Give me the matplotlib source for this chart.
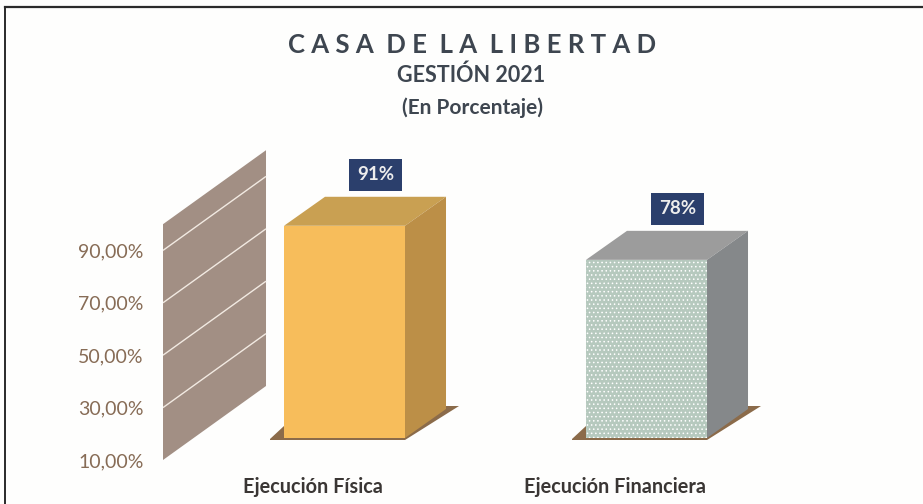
import matplotlib
matplotlib.use('Agg')
import matplotlib.pyplot as plt
from matplotlib.patches import Polygon
from matplotlib.lines import Line2D

categories = ['Ejecución Física', 'Ejecución Financiera']
valores = [91, 78]
etiquetas = ['91%', '78%']
ticks = [10, 30, 50, 70, 90]
tick_labels = ['10,00%', '30,00%', '50,00%', '70,00%', '90,00%']
colores = ['#F7BD5B', '#B6C9BE']
lados = ['#BC8F47', '#85888A']
techos = ['#C9A052', '#9C9C9C']
W, H = 923, 504

plt.rcParams['font.family'] = ['Lato', 'DejaVu Sans']
plt.rcParams['hatch.linewidth'] = 0.6
fig = plt.figure(figsize=(W/100, H/100), dpi=100, facecolor='#FEFEFD')

# ejes puestos a mano, en pixeles de la imagen
ax = fig.add_axes([163/W, 1-460/H, (780-163)/W, 314.4/H])
ax.set_xlim(-0.601, 1.442)
ax.set_ylim(10, 130)
ax.patch.set_alpha(0)
for s in ax.spines.values():
    s.set_visible(False)
px_x = 1/302
px_y = 1/2.62
base = 10 + 22*px_y
dx, dy = 41*px_x, 29*px_y
ancho = 121*px_x

# pared del fondo
wx = -0.601
wdx, wdy = 103*px_x, 74*px_y
ax.add_patch(Polygon([(wx, 10), (wx, 100), (wx+wdx, 100+wdy), (wx+wdx, 10+wdy)], fc='#A28F84', ec='none'))
for t in ticks[1:]:
    ax.plot([wx, wx+wdx], [t, t+wdy], color='#F2EAE2', lw=1.0, solid_capstyle='butt')

ax.set_yticks(ticks)
ax.set_yticklabels(tick_labels, fontsize=14, color='#876C56')
ax.tick_params(axis='y', length=0, pad=14)
ax.set_xticks([])

for i, v in enumerate(valores):
    izq = i - ancho/2
    der = i + ancho/2
    # sombra en el piso
    ax.add_patch(Polygon([(izq-14*px_x, base-1*px_y), (izq, base+12*px_y), (der+dx, base+dy+3*px_y),
                          (der+dx+13*px_x, base+dy+3*px_y), (der, base-2*px_y), (izq-14*px_x, base-2*px_y)],
                         fc='#8B6B4A', ec='none', zorder=2))
    top = base + v - 10
    ax.add_patch(Polygon([(izq, top), (izq+dx, top+dy), (der+dx, top+dy), (der, top)], fc=techos[i], ec='none', zorder=3))
    ax.add_patch(Polygon([(der, base), (der, top), (der+dx, top+dy), (der+dx, base+dy)], fc=lados[i], ec='none', zorder=3))
    ax.bar(i, v-10, width=ancho, bottom=base, color=colores[i], zorder=4,
           hatch='....' if i == 1 else None, edgecolor='#FFFFFF' if i == 1 else colores[i], lw=0)
    ax.annotate(etiquetas[i], (i, top), xytext=(31*0.72, 51*0.72), textcoords='offset points',
                ha='center', va='center', fontsize=13.5, fontweight='bold', color='#EDEDED', zorder=5,
                bbox=dict(boxstyle='square,pad=0.4', fc='#2B3F6C', ec='none'))
    ax.annotate(categories[i], (i, 10), xytext=(-32*0.72, -27*0.72), textcoords='offset points',
                ha='center', va='center', fontsize=14.3, fontweight='bold', color='#3A3634')

fig.text(472/W, 1-45/H, 'C A S A  D E  L A  L I B E R T A D', ha='center', va='center',
         fontsize=18.5, fontweight='bold', color='#3E4650')
fig.text(471/W, 1-75/H, 'GESTIÓN 2021', ha='center', va='center', fontsize=15.5, fontweight='bold', color='#3E4650')
fig.text(472/W, 1-108/H, '(En Porcentaje)', ha='center', va='center', fontsize=15, fontweight='bold', color='#3E4650')

# marco del recuadro
fig.add_artist(Line2D([5/W, 1], [1-7/H, 1-7/H], color='#2A2A2A', lw=1.6))
fig.add_artist(Line2D([5/W, 5/W], [0, 1-7/H], color='#2A2A2A', lw=1.4))

fig.savefig('out.png', dpi=100, facecolor=fig.get_facecolor())
